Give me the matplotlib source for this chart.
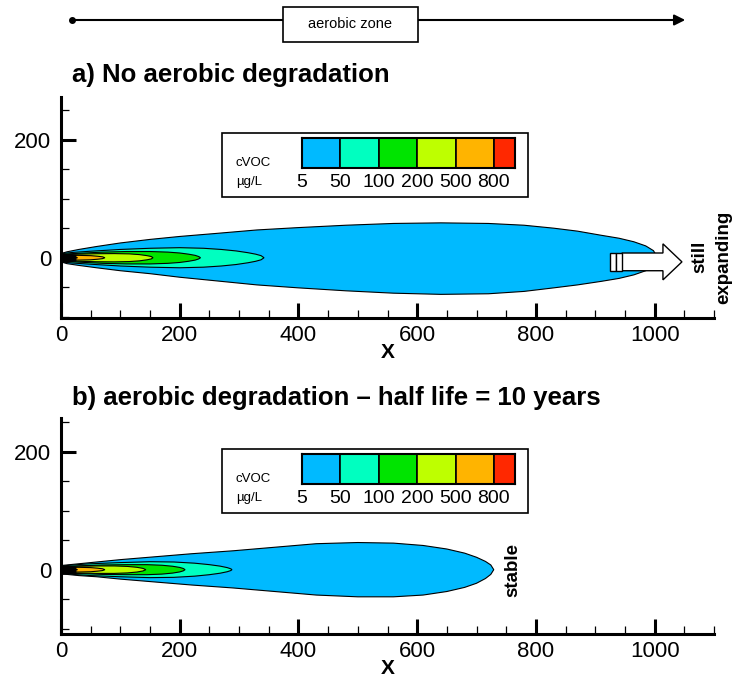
import matplotlib
matplotlib.use("Agg")
import matplotlib.pyplot as plt
import numpy as np
from matplotlib.lines import Line2D
from matplotlib.patches import Rectangle, FancyArrow
from matplotlib.ticker import MultipleLocator

W, H = 735, 681

plt.rcParams.update({
    "font.family": ["Liberation Sans", "DejaVu Sans"],
    "axes.linewidth": 2.2,
})

LEVEL_LABELS = ["5", "50", "100", "200", "500", "800"]
LEVEL_COLORS = ["#00BAFF", "#00FFC0", "#00E400", "#BEFF00", "#FFB400", "#FF2800"]

# --- a) no aerobic degradation: plume outlines (x, y read off the picture)
A_X5 = [0, 10, 30, 60, 100, 150, 200, 260, 330, 400, 480, 560, 640, 720,
        780, 830, 870, 910, 940, 965, 985, 998, 1005]
A_UP5 = [7, 10, 14, 19, 25, 31, 36, 41, 47, 51, 55, 58, 59, 58,
         55, 50, 45, 38, 33, 27, 20, 12, 0]
A_LO5 = [-7, -10, -13, -17, -22, -27, -33, -39, -46, -51, -56, -60, -62, -61,
         -57, -51, -46, -40, -35, -29, -22, -13, 0]
A_X50 = [0, 20, 50, 100, 150, 200, 240, 270, 295, 315, 328, 337, 342]
A_H50 = [7, 9, 11, 14, 16, 17, 16, 14, 11.5, 8.5, 6, 3.5, 0]
A_X100 = [0, 30, 70, 110, 150, 180, 200, 215, 226, 232, 235]
A_H100 = [6, 7.5, 9.5, 10.5, 10.5, 9.5, 8, 6, 4, 2, 0]
A_X200 = [0, 30, 60, 90, 115, 132, 145, 152, 155]
A_H200 = [5, 6, 6.8, 7, 6.5, 5.3, 3.5, 2, 0]
A_X500 = [0, 30, 50, 62, 70, 74]
A_H500 = [4, 4, 3.5, 2.5, 1.5, 0]
A_X800 = [0, 18, 28]
A_H800 = [3, 2, 0]

# --- b) aerobic degradation, half life = 10 years
B_X5 = [0, 10, 30, 60, 100, 160, 220, 290, 360, 430, 500, 560, 610, 650,
        680, 700, 715, 724, 729]
B_UP5 = [7, 8, 10, 13, 17, 22, 27, 32, 38, 44, 46, 45, 41, 35,
         28, 21, 14, 8, 0]
B_LO5 = [-7, -8, -10, -12, -16, -21, -26, -31, -37, -43, -46, -46, -43, -37,
         -30, -23, -15, -8, 0]
B_X50 = [0, 20, 50, 100, 150, 190, 225, 250, 268, 280, 286, 288]
B_H50 = [6, 8, 10, 12, 13.5, 13, 11, 8.5, 6, 3.5, 1.5, 0]
B_X100 = [0, 30, 70, 110, 145, 170, 188, 200, 206, 209]
B_H100 = [5, 6.5, 8, 8.5, 8.5, 7.5, 5.8, 3.8, 2, 0]
B_X200 = [0, 30, 60, 90, 112, 128, 138, 143]
B_H200 = [5, 5.8, 6.3, 6.3, 5.5, 4, 2.2, 0]
B_X500 = [0, 30, 50, 62, 70, 74]
B_H500 = [4, 4, 3.5, 2.5, 1.5, 0]
B_X800 = [0, 18, 28]
B_H800 = [3, 2, 0]

SOURCE_X = [0, 24]
SOURCE_H = [7, 4.5]


def fx(px):
    return px / W


def fy(py):
    return 1 - py / H


def band(ax, x, up, lo, color, z):
    x = np.asarray(x, float)
    xs = np.concatenate([x, x[::-1]])
    ys = np.concatenate([np.asarray(up, float), np.asarray(lo, float)[::-1]])
    ax.fill(xs, ys, facecolor=color, edgecolor="black", lw=0.8, zorder=z)


def sym(ax, x, h, color, z):
    h = np.asarray(h, float)
    band(ax, x, h, -h, color, z)


def style_axes(ax, ylim):
    ax.set_xlim(0, 1100)
    ax.set_ylim(*ylim)
    for s in ("top", "right"):
        ax.spines[s].set_visible(False)
    ax.xaxis.set_major_locator(MultipleLocator(200))
    ax.xaxis.set_minor_locator(MultipleLocator(50))
    ax.yaxis.set_major_locator(MultipleLocator(200))
    ax.yaxis.set_minor_locator(MultipleLocator(50))
    ax.tick_params(which="major", direction="in", length=11, width=2.2,
                   labelsize=16, pad=5)
    ax.tick_params(which="minor", direction="in", length=5.5, width=0.9)
    ax.tick_params(axis="y", which="major", pad=7)
    ax.set_xlabel("X", fontsize=15, fontweight="bold", labelpad=-2)


def legend_box(fig, top):
    fig.add_artist(Rectangle((fx(222), fy(top + 64)), fx(306), 64 / H,
                             transform=fig.transFigure, fill=False,
                             edgecolor="black", lw=1.2))
    cb = fig.add_axes([fx(302), fy(top + 35), fx(213), 30 / H])
    cb.bar(np.arange(len(LEVEL_LABELS)), 1, width=1, align="edge",
           color=LEVEL_COLORS, edgecolor="black", lw=1.2)
    cb.set_xlim(0, 5.55)
    cb.set_ylim(0, 1)
    cb.set_yticks([])
    cb.set_xticks(np.arange(len(LEVEL_LABELS)))
    cb.set_xticklabels(LEVEL_LABELS, fontsize=14,
                       family=["Liberation Sans Narrow", "Liberation Sans"])
    cb.tick_params(axis="x", length=0, pad=4)
    for s in cb.spines.values():
        s.set_linewidth(1.5)
    fig.text(fx(236), fy(top + 30), "cVOC", fontsize=9.5, va="center")
    fig.text(fx(236), fy(top + 49), "µg/L", fontsize=9.5, va="center")


fig = plt.figure(figsize=(W / 100, H / 100), dpi=100)

ax_a = fig.add_axes([fx(61), fy(318), fx(653), 221 / H])
band(ax_a, A_X5, A_UP5, A_LO5, LEVEL_COLORS[0], 2)
sym(ax_a, A_X50, A_H50, LEVEL_COLORS[1], 3)
sym(ax_a, A_X100, A_H100, LEVEL_COLORS[2], 4)
sym(ax_a, A_X200, A_H200, LEVEL_COLORS[3], 5)
sym(ax_a, A_X500, A_H500, LEVEL_COLORS[4], 6)
sym(ax_a, A_X800, A_H800, LEVEL_COLORS[5], 7)
ax_a.fill_between(SOURCE_X, SOURCE_H, [-v for v in SOURCE_H], color="black", zorder=8)
style_axes(ax_a, (-102, 272))

# "still expanding" arrow
ax_a.add_patch(FancyArrow(945, -7, 101, 0, width=30, head_width=61,
                          head_length=32, length_includes_head=True,
                          facecolor="white", edgecolor="black", lw=1.0, zorder=9))
for x0 in (925, 935):
    ax_a.add_patch(Rectangle((x0, -22), 10, 30, facecolor="white",
                             edgecolor="black", lw=1.0, zorder=9))

ax_b = fig.add_axes([fx(61), fy(634), fx(653), 216 / H])
band(ax_b, B_X5, B_UP5, B_LO5, LEVEL_COLORS[0], 2)
sym(ax_b, B_X50, B_H50, LEVEL_COLORS[1], 3)
sym(ax_b, B_X100, B_H100, LEVEL_COLORS[2], 4)
sym(ax_b, B_X200, B_H200, LEVEL_COLORS[3], 5)
sym(ax_b, B_X500, B_H500, LEVEL_COLORS[4], 6)
sym(ax_b, B_X800, B_H800, LEVEL_COLORS[5], 7)
ax_b.fill_between(SOURCE_X, SOURCE_H, [-v for v in SOURCE_H], color="black", zorder=8)
style_axes(ax_b, (-109, 257))

legend_box(fig, 133)
legend_box(fig, 449)

# titles and side notes
fig.text(fx(72), fy(75), "a) No aerobic degradation", fontsize=18.5,
         fontweight="bold", va="center")
fig.text(fx(72), fy(398), "b) aerobic degradation \u2013 half life = 10 years",
         fontsize=18.5, fontweight="bold", va="center")
fig.text(fx(712), fy(257), "still\nexpanding", rotation=90, fontsize=13.5,
         fontweight="bold", ha="center", va="center", multialignment="center",
         linespacing=1.5)
fig.text(fx(513), fy(570), "stable", rotation=90, fontsize=13.5,
         fontweight="bold", ha="center", va="center")

# aerobic zone arrow on top
fig.add_artist(Line2D([fx(72), fx(676)], [fy(20), fy(20)], transform=fig.transFigure,
                      color="black", lw=1.5))
fig.add_artist(Line2D([fx(72)], [fy(20)], transform=fig.transFigure, marker="o",
                      ms=4, color="black"))
ax_a.annotate("", xy=(fx(688), fy(20)), xytext=(fx(670), fy(20)),
              xycoords="figure fraction", textcoords="figure fraction",
              annotation_clip=False,
              arrowprops=dict(arrowstyle="-|>", color="black", lw=1.5,
                              mutation_scale=16))
fig.add_artist(Rectangle((fx(283), fy(42)), fx(135), 35 / H,
                         transform=fig.transFigure, facecolor="white",
                         edgecolor="black", lw=1.2, zorder=5))
fig.text(fx(350), fy(24), "aerobic zone", fontsize=10.5, ha="center",
         va="center", zorder=6)

fig.savefig("out.png", dpi=100)
